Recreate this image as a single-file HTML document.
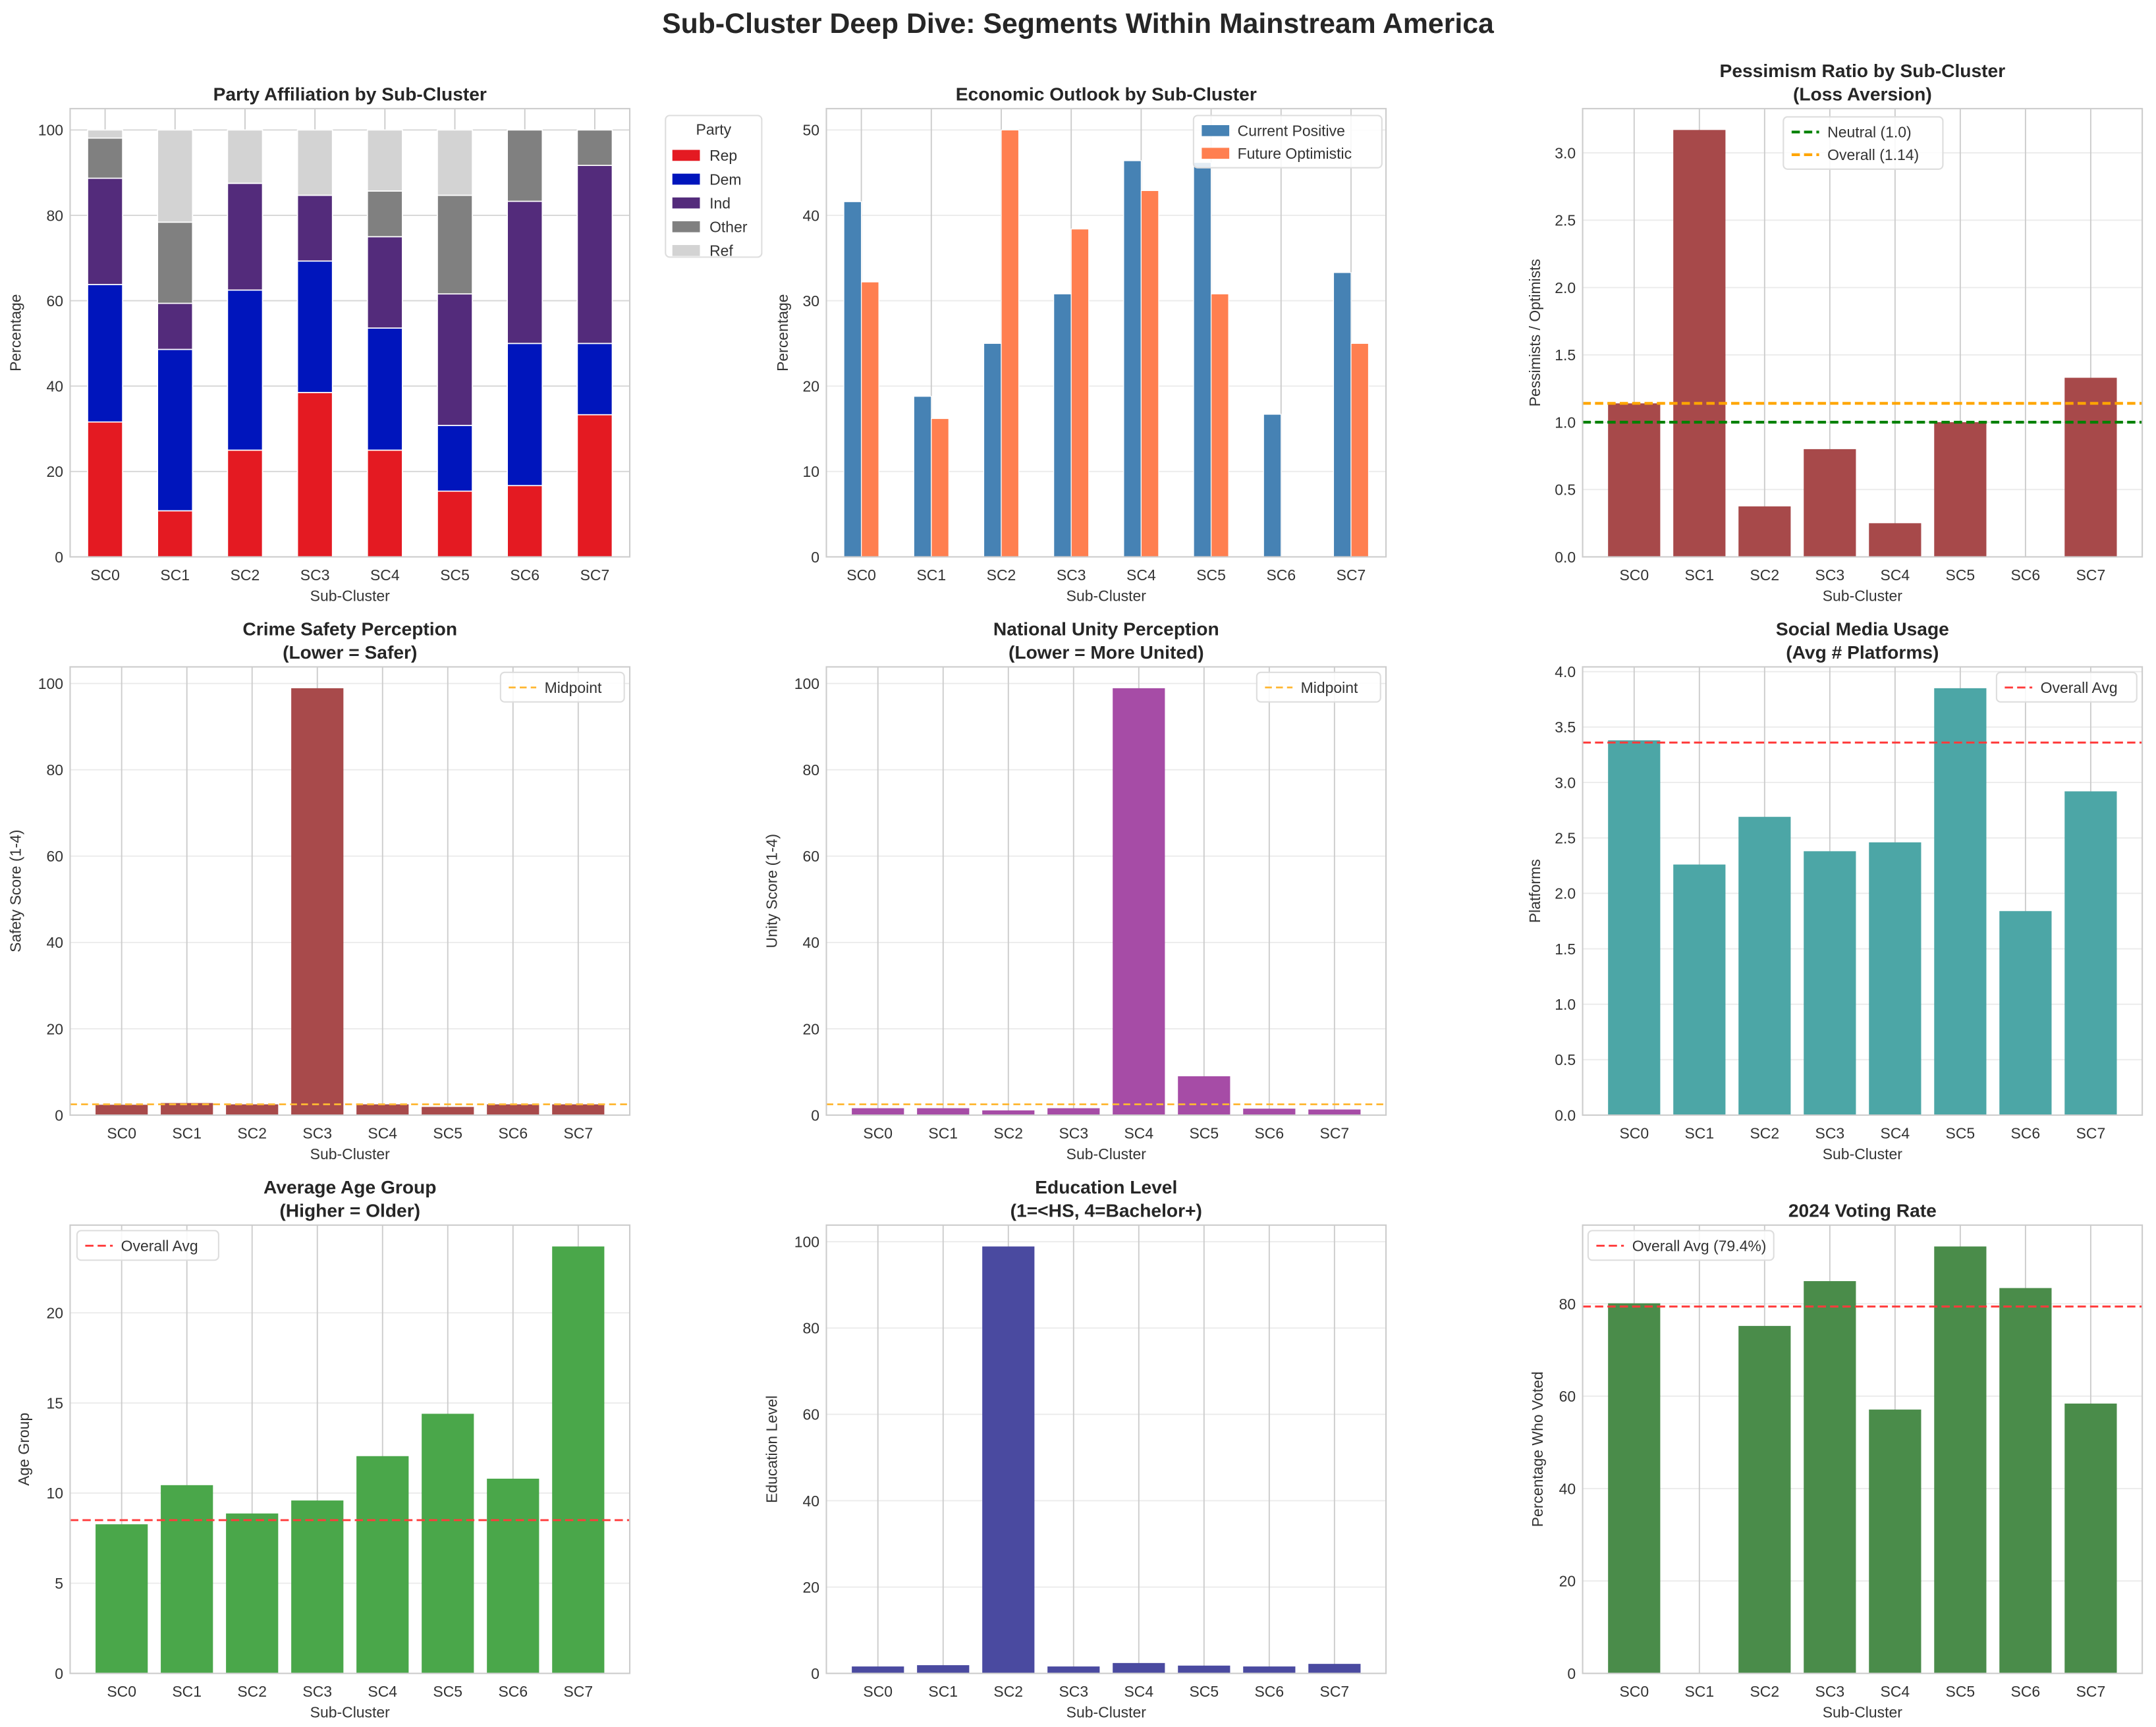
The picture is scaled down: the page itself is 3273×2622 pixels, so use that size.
<!DOCTYPE html>
<html><head><meta charset="utf-8"><style>
html,body{margin:0;padding:0;background:#fff;}
svg{display:block;font-family:"Liberation Sans","DejaVu Sans",sans-serif;}
</style></head><body>
<svg id="fig" width="3273" height="2622" viewBox="0 0 1568 1256" preserveAspectRatio="none" xmlns="http://www.w3.org/2000/svg">
<rect x="0" y="0" width="1568" height="1256" fill="#fff"/>
<text x="784" y="24" text-anchor="middle" font-size="20.5" font-weight="bold" fill="#262626">Sub-Cluster Deep Dive: Segments Within Mainstream America</text>
</svg>
<script>
// ---------- DATA ----------
const categories = ["SC0","SC1","SC2","SC3","SC4","SC5","SC6","SC7"];
const partyNames = ["Rep","Dem","Ind","Other","Ref"];
const partyRep = [31.6,10.8,25.0,38.5,25.0,15.4,16.7,33.3];
const partyDem = [32.2,37.8,37.5,30.8,28.6,15.4,33.3,16.7];
const partyInd = [24.9,10.8,25.0,15.4,21.4,30.8,33.3,41.7];
const partyOther = [9.4,19.0,0,0,10.7,23.1,16.7,8.3];
const partyRef = [1.9,21.6,12.5,15.3,14.3,15.3,0,0];
const econCurrent = [41.6,18.8,25.0,30.8,46.4,46.2,16.7,33.3];
const econFuture = [32.2,16.2,50.0,38.4,42.9,30.8,0,25.0];
const pessRatio = [1.14,3.17,0.375,0.8,0.25,1.0,0,1.33];
const pessNeutral = 1.0;
const pessOverall = 1.14;
const crimeScore = [2.4,2.8,2.5,98.9,2.5,1.9,2.5,2.5];
const crimeMid = 2.5;
const unityScore = [1.6,1.6,1.1,1.6,98.9,9.0,1.5,1.3];
const unityMid = 2.5;
const socialPlatforms = [3.38,2.26,2.69,2.38,2.46,3.85,1.84,2.92];
const socialAvg = 3.36;
const ageGroup = [8.27,10.44,8.87,9.59,12.05,14.4,10.8,23.68];
const ageAvg = 8.5;
const eduLevel = [1.6,1.9,98.9,1.6,2.4,1.8,1.6,2.2];
const voteRate = [80.1,0,75.2,84.9,57.1,92.4,83.4,58.4];
const voteAvg = 79.4;
const ticksParty = [0,20,40,60,80,100];
const ticksEcon = [0,10,20,30,40,50];
const ticksPess = [0.0,0.5,1.0,1.5,2.0,2.5,3.0];
const ticksHundred = [0,20,40,60,80,100];
const ticksSocial = [0.0,0.5,1.0,1.5,2.0,2.5,3.0,3.5,4.0];
const ticksAge = [0,5,10,15,20];
const ticksVote = [0,20,40,60,80];

// ---------- HELPERS ----------
const NS = "http://www.w3.org/2000/svg";
const svg = document.getElementById("fig");
function mk(tag, attrs, parent){
  const e = document.createElementNS(NS, tag);
  for (const k in attrs) e.setAttribute(k, attrs[k]);
  (parent||svg).appendChild(e);
  return e;
}
function fmtTick(v, dec){ return dec ? v.toFixed(dec) : String(v); }

function axes(cfg){
  const g = mk("g", {});
  
  
  const L=cfg.x0, R=cfg.x1, T=cfg.y0, B=cfg.y1;
  const xs = v => L + (v - cfg.xmin)/(cfg.xmax-cfg.xmin)*(R-L);
  const ys = v => B - v/cfg.ymax*(B-T);
  cfg.ticks.forEach(t=>{
    const y = ys(t);
    const gl = mk("line",{x1:L,x2:R,y1:y,y2:y,stroke:cfg.hgrid||"#ebebeb","stroke-width":0.9},g);
    
    
    const tl = mk("text",{x:L-5,y:y+4,"text-anchor":"end","font-size":11,fill:"#333"},g);
    
    
    tl.textContent = fmtTick(t, cfg.dec);
  });
  categories.forEach((c,i)=>{
    const x = xs(i);
    const vl = mk("line",{x1:x,x2:x,y1:T,y2:B,stroke:"#cccccc","stroke-width":0.9},g);
    
    
    const tl = mk("text",{x:x,y:B+17,"text-anchor":"middle","font-size":11,fill:"#333"},g);
    
    
    tl.textContent = c;
  });
  const xl = mk("text",{x:(L+R)/2,y:B+32,"text-anchor":"middle","font-size":11,fill:"#333"},g);
  
  
  xl.textContent = "Sub-Cluster";
  const yl = mk("text",{x:0,y:0,"text-anchor":"middle","font-size":11,fill:"#333",transform:`translate(${cfg.ylabX},${(T+B)/2}) rotate(-90)`},g);
  
  
  yl.textContent = cfg.ylabel;
  cfg.title.forEach((line,k)=>{
    const tt = mk("text",{x:(L+R)/2,y:T-6-(cfg.title.length-1-k)*17,"text-anchor":"middle","font-size":13.5,"font-weight":"bold",fill:"#262626"},g);
    
    
    tt.textContent = line;
  });
  return {g,xs,ys,L,R,T,B};
}
function frame(a){
  const f = mk("rect",{x:a.L,y:a.T,width:a.R-a.L,height:a.B-a.T,fill:"none",stroke:"#cccccc","stroke-width":1},a.g);
  
  
}
function bars(a, vals, width, color, opts){
  opts = opts||{};
  vals.forEach((v,i)=>{
    const cx = i + (opts.offset||0);
    const base = opts.base ? opts.base[i] : 0;
    const x0 = a.xs(cx - width/2), x1 = a.xs(cx + width/2);
    const y0 = a.ys(base + v), y1 = a.ys(base);
    const r = mk("rect",{x:x0,y:y0,width:x1-x0,height:Math.max(0,y1-y0),fill:color,stroke:opts.stroke||"none","stroke-width":opts.sw||0},a.g);
    
    
  });
}
function hline(a, v, color, dash, sw){
  const y = a.ys(v);
  const l = mk("line",{x1:a.L,x2:a.R,y1:y,y2:y,stroke:color,"stroke-width":sw||1.5,"stroke-dasharray":dash},a.g);
  
  
}
function legend(a, x, y, w, entries, kind){
  const h = 5 + entries.length*16.5;
  const box = mk("rect",{x:x,y:y,width:w,height:h,rx:3,fill:"#fff","fill-opacity":0.85,stroke:"#dddddd","stroke-width":1},a.g);
  
  
  entries.forEach((e,k)=>{
    const cy = y + 11 + k*16.5;
    let m;
    if (kind==="patch"){
      m = mk("rect",{x:x+6,y:cy-4,width:20,height:8,fill:e.color},a.g);
    } else {
      m = mk("line",{x1:x+6,x2:x+26,y1:cy,y2:cy,stroke:e.color,"stroke-width":e.sw||1.5,"stroke-dasharray":e.dash},a.g);
    }
    
    
    const t = mk("text",{x:x+32,y:cy+4,"font-size":11,fill:"#333"},a.g);
    
    
    t.textContent = e.label;
  });
}

const COLX = [[51,458],[601,1008],[1151,1558]];
const ROWY = [[79,405],[485,811],[891,1217]];
const W8 = 0.05*(7+0.8)+0.4;

// ---------- PANEL 1 ----------
(function(){
  const a = axes({name:"party-affiliation",x0:COLX[0][0],x1:COLX[0][1],y0:ROWY[0][0],y1:ROWY[0][1],xmin:-0.5,xmax:7.5,ymax:105,ticks:ticksParty,hgrid:"#d6d6d6",ylabel:"Percentage",ylabX:15,title:["Party Affiliation by Sub-Cluster"]});
  const series=[partyRep,partyDem,partyInd,partyOther,partyRef];
  const cols=["#e41a22","#0015bc","#532b7b","#808080","#d3d3d3"];
  const base=categories.map(()=>0);
  series.forEach((s,k)=>{
    bars(a,s,0.5,cols[k],{base:base.slice(),stroke:"#fff",sw:0.8,name:'bar-'+partyNames[k].toLowerCase()});
    s.forEach((v,i)=>base[i]+=v);
  });
  frame(a);
  const lx=484, ly=84;
  const box = mk("rect",{x:lx,y:ly,width:70,height:103,rx:3,fill:"#fff",stroke:"#dddddd"},a.g);
  
  
  const lt = mk("text",{x:lx+35,y:ly+14,"text-anchor":"middle","font-size":11,fill:"#333"},a.g);
  
  
  lt.textContent="Party";
  partyNames.forEach((n,k)=>{
    const cy=ly+29+k*17.3;
    const m=mk("rect",{x:lx+5,y:cy-4,width:20,height:8,fill:cols[k]},a.g);
    
    
    const t=mk("text",{x:lx+32,y:cy+4,"font-size":11,fill:"#333"},a.g);
    
    
    t.textContent=n;
  });
})();

// ---------- PANEL 2 ----------
(function(){
  const a = axes({name:"economic-outlook",x0:COLX[1][0],x1:COLX[1][1],y0:ROWY[0][0],y1:ROWY[0][1],xmin:-0.5,xmax:7.5,ymax:52.5,ticks:ticksEcon,ylabel:"Percentage",ylabX:573,title:["Economic Outlook by Sub-Cluster"]});
  bars(a,econCurrent,0.25,"#4682b4",{offset:-0.125,stroke:"#fff",sw:0.6,name:'bar-current-positive'});
  bars(a,econFuture,0.25,"#ff7f50",{offset:0.125,stroke:"#fff",sw:0.6,name:'bar-future-optimistic'});
  frame(a);
  legend(a,868,84,137,[{label:"Current Positive",color:"#4682b4"},{label:"Future Optimistic",color:"#ff7f50"}],"patch");
})();

// ---------- PANEL 3 ----------
(function(){
  const ymax = Math.max(...pessRatio)*1.05;
  const a = axes({name:"pessimism-ratio",x0:COLX[2][0],x1:COLX[2][1],y0:ROWY[0][0],y1:ROWY[0][1],xmin:-W8,xmax:7+W8,ymax:ymax,ticks:ticksPess,dec:1,ylabel:"Pessimists / Optimists",ylabX:1120,title:["Pessimism Ratio by Sub-Cluster","(Loss Aversion)"]});
  bars(a,pessRatio,0.8,"#a7494a",{name:'bar-pessimism'});
  hline(a,pessNeutral,"#008000","6,3",2);
  hline(a,pessOverall,"#ffa500","6,3",2);
  frame(a);
  legend(a,1297,85,116,[{label:"Neutral (1.0)",color:"#008000",dash:"6,3",sw:2},{label:"Overall (1.14)",color:"#ffa500",dash:"6,3",sw:2}],"line");
})();

// ---------- PANEL 4 ----------
(function(){
  const a = axes({name:"crime-safety",x0:COLX[0][0],x1:COLX[0][1],y0:ROWY[1][0],y1:ROWY[1][1],xmin:-W8,xmax:7+W8,ymax:Math.max(...crimeScore)*1.05,ticks:ticksHundred,ylabel:"Safety Score (1-4)",ylabX:15,title:["Crime Safety Perception","(Lower = Safer)"]});
  bars(a,crimeScore,0.8,"#a84a4b",{name:'bar-safety'});
  hline(a,crimeMid,"#ffb733","5,3",1.3);
  frame(a);
  legend(a,364,489,90,[{label:"Midpoint",color:"#ffb733",dash:"5,3",sw:1.3}],"line");
})();

// ---------- PANEL 5 ----------
(function(){
  const a = axes({name:"national-unity",x0:COLX[1][0],x1:COLX[1][1],y0:ROWY[1][0],y1:ROWY[1][1],xmin:-W8,xmax:7+W8,ymax:Math.max(...unityScore)*1.05,ticks:ticksHundred,ylabel:"Unity Score (1-4)",ylabX:565,title:["National Unity Perception","(Lower = More United)"]});
  bars(a,unityScore,0.8,"#a64ca6",{name:'bar-unity'});
  hline(a,unityMid,"#ffb733","5,3",1.3);
  frame(a);
  legend(a,914,489,90,[{label:"Midpoint",color:"#ffb733",dash:"5,3",sw:1.3}],"line");
})();

// ---------- PANEL 6 ----------
(function(){
  const a = axes({name:"social-media",x0:COLX[2][0],x1:COLX[2][1],y0:ROWY[1][0],y1:ROWY[1][1],xmin:-W8,xmax:7+W8,ymax:Math.max(...socialPlatforms)*1.05,ticks:ticksSocial,dec:1,ylabel:"Platforms",ylabX:1120,title:["Social Media Usage","(Avg # Platforms)"]});
  bars(a,socialPlatforms,0.8,"#4ca6a6",{name:'bar-platforms'});
  hline(a,socialAvg,"#ff3b3b","6,3",1.4);
  frame(a);
  legend(a,1452,489,102,[{label:"Overall Avg",color:"#ff3b3b",dash:"6,3",sw:1.4}],"line");
})();

// ---------- PANEL 7 ----------
(function(){
  const a = axes({name:"age-group",x0:COLX[0][0],x1:COLX[0][1],y0:ROWY[2][0],y1:ROWY[2][1],xmin:-W8,xmax:7+W8,ymax:Math.max(...ageGroup)*1.05,ticks:ticksAge,ylabel:"Age Group",ylabX:21,title:["Average Age Group","(Higher = Older)"]});
  bars(a,ageGroup,0.8,"#4aa74a",{name:'bar-age'});
  hline(a,ageAvg,"#ff3b3b","6,3",1.4);
  frame(a);
  legend(a,56,895,103,[{label:"Overall Avg",color:"#ff3b3b",dash:"6,3",sw:1.4}],"line");
})();

// ---------- PANEL 8 ----------
(function(){
  const a = axes({name:"education-level",x0:COLX[1][0],x1:COLX[1][1],y0:ROWY[2][0],y1:ROWY[2][1],xmin:-W8,xmax:7+W8,ymax:Math.max(...eduLevel)*1.05,ticks:ticksHundred,ylabel:"Education Level",ylabX:565,title:["Education Level","(1=<HS, 4=Bachelor+)"]});
  bars(a,eduLevel,0.8,"#4a4aa0",{name:'bar-education'});
  frame(a);
})();

// ---------- PANEL 9 ----------
(function(){
  const a = axes({name:"voting-rate",x0:COLX[2][0],x1:COLX[2][1],y0:ROWY[2][0],y1:ROWY[2][1],xmin:-W8,xmax:7+W8,ymax:Math.max(...voteRate)*1.05,ticks:ticksVote,ylabel:"Percentage Who Voted",ylabX:1122,title:["2024 Voting Rate"]});
  bars(a,voteRate,0.8,"#4a8c4a",{name:'bar-voted'});
  hline(a,voteAvg,"#ff3b3b","6,3",1.4);
  frame(a);
  legend(a,1155,895,135,[{label:"Overall Avg (79.4%)",color:"#ff3b3b",dash:"6,3",sw:1.4}],"line");
})();
</script>
</body></html>
